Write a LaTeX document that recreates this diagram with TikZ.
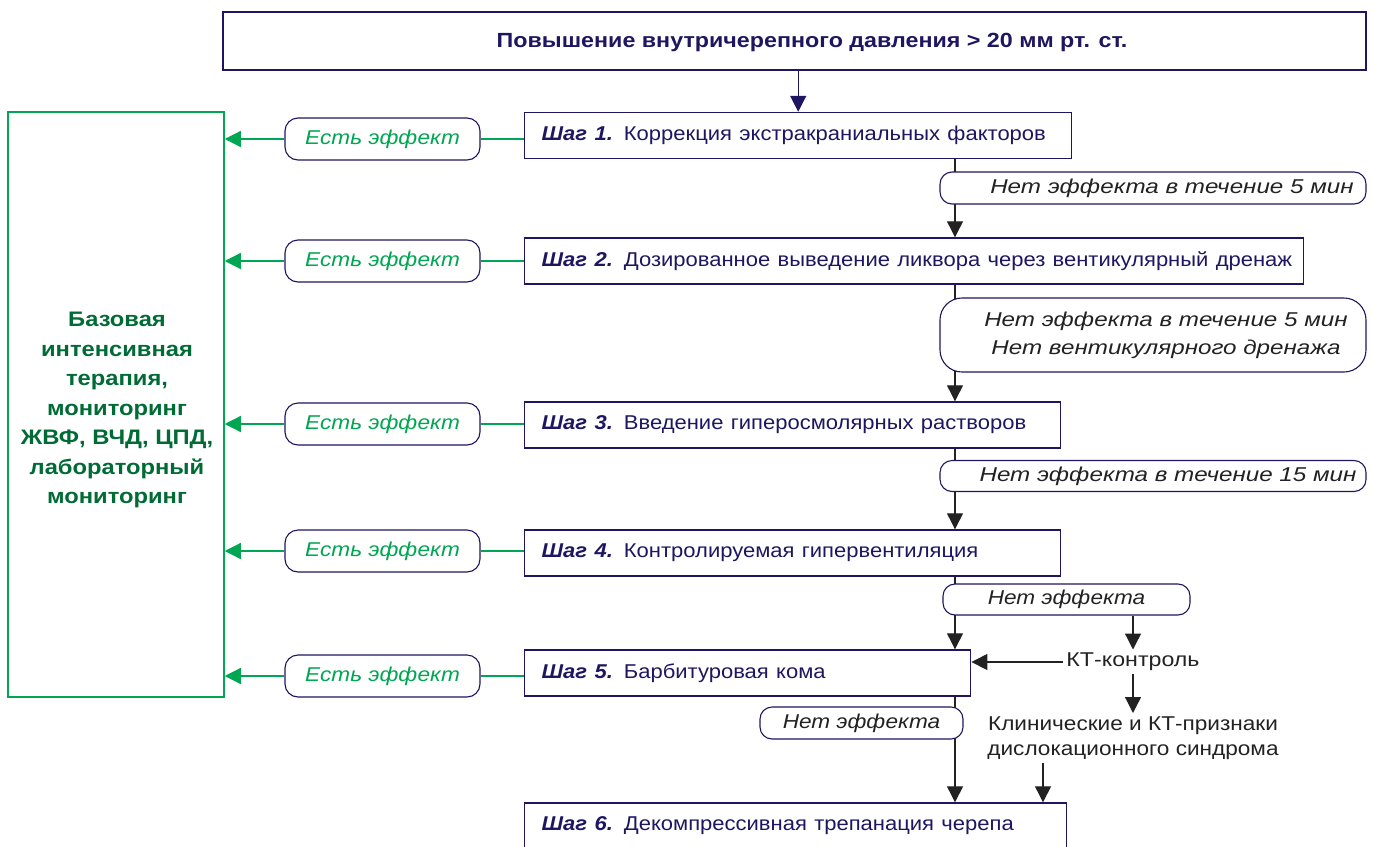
\documentclass[tikz,border=0pt]{standalone}
\usepackage{fontspec}
\usepackage{graphicx}
\setmainfont{Liberation Sans}
\usetikzlibrary{arrows.meta}
\definecolor{navy}{HTML}{1E1660}
\definecolor{grn}{HTML}{00A651}
\definecolor{dgrn}{HTML}{006B35}
\definecolor{dk}{HTML}{222222}
\newcommand\hs[1]{\scalebox{1.13}[1]{#1}}
\newcommand\hst[1]{\scalebox{1.10}[1]{#1}}
\newcommand\hw[1]{\scalebox{1.21}[1]{#1}}
\begin{document}
\begin{tikzpicture}[x=1pt,y=-1pt,
  stepbox/.style={draw=navy,line width=1.4pt,fill=white,text=navy,anchor=west,minimum height=46pt,inner xsep=17pt,align=left,font=\fontsize{20}{22}\selectfont},
  yes/.style={draw=navy,line width=1.1pt,rounded corners=13pt,fill=white,text=grn,minimum width=195pt,minimum height=42pt,font=\fontsize{20}{22}\selectfont\itshape},
  no/.style={draw=navy,line width=1.1pt,rounded corners=12pt,fill=white,text=dk,font=\fontsize{20}{22}\selectfont\itshape,align=center},
  flow/.style={draw=dk,line width=1.2pt,-{Triangle[width=16pt,length=16pt]}},
  gline/.style={draw=grn,line width=1.2pt},
  garrow/.style={draw=grn,line width=1.2pt,-{Triangle[width=16pt,length=16pt]}},
  plain/.style={text=dk,font=\fontsize{20}{25}\selectfont,align=center}
]
\useasboundingbox (0,0) rectangle (1373,846);
% top
\node[draw=navy,line width=1.4pt,minimum width=1143pt,minimum height=58pt] (top) at (794.5,41) {};
\node[text=navy,font=\fontsize{20.5}{22}\selectfont\bfseries] (title) at (812,42) {\scalebox{1.135}[1]{Повышение внутричерепного давления > 20 мм рт. ст.}};
% left base box
\node[draw=grn,line width=1.5pt,minimum width=216pt,minimum height=585pt] (base) at (116,404.5) {};
\node[text=dgrn,align=center,font=\fontsize{21}{29.5}\selectfont\bfseries] (basetext) at (117,410) {\hs{Базовая}\\\hs{интенсивная}\\\hs{терапия,}\\\hs{мониторинг}\\\hs{ЖВФ, ВЧД, ЦПД,}\\\hs{лабораторный}\\\hs{мониторинг}};
\coordinate (vx) at (955,0);
% steps
\node[stepbox,text width=513pt] (s1) at (524,135.5) {\hst{\textbf{\textit{Шаг 1.}} Коррекция экстракраниальных факторов}};
\node[stepbox,text width=745pt] (s2) at (524,261) {\hst{\textbf{\textit{Шаг 2.}} Дозированное выведение ликвора через вентикулярный дренаж}};
\node[stepbox,text width=502pt] (s3) at (524,425) {\hst{\textbf{\textit{Шаг 3.}} Введение гиперосмолярных растворов}};
\node[stepbox,text width=502pt] (s4) at (524,553) {\hst{\textbf{\textit{Шаг 4.}} Контролируемая гипервентиляция}};
\node[stepbox,text width=412pt] (s5) at (524,673) {\hst{\textbf{\textit{Шаг 5.}} Барбитуровая кома}};
\node[stepbox,text width=508pt] (s6) at (524,826) {\hst{\textbf{\textit{Шаг 6.}} Декомпрессивная трепанация черепа}};
% yes labels
\node[yes] (e1) at (382.5,139) {\hs{Есть эффект}};
\node[yes] (e2) at (382.5,261) {\hs{Есть эффект}};
\node[yes] (e3) at (382.5,424) {\hs{Есть эффект}};
\node[yes] (e4) at (382.5,551) {\hs{Есть эффект}};
\node[yes] (e5) at (382.5,676) {\hs{Есть эффект}};
\foreach \i in {1,...,5}{
  \draw[gline] (s\i.west |- e\i) -- (e\i.east);
  \draw[garrow] (e\i.west) -- (e\i.west -| base.east);
}
% top arrow
\draw[draw=navy,line width=1.4pt,-{Triangle[width=16pt,length=16pt]}] (top.south -| s1.north) -- (s1.north);
% vertical flow lines
\draw[flow] (vx |- s1.south) -- (vx |- s2.north);
\draw[flow] (vx |- s2.south) -- (vx |- s3.north);
\draw[flow] (vx |- s3.south) -- (vx |- s4.north);
\draw[flow] (vx |- s4.south) -- (vx |- s5.north);
\draw[flow] (vx |- s5.south) -- (vx |- s6.north);
% no labels
\node[no,minimum width=426pt,minimum height=32pt] (n1) at (1153,188) {\hspace*{38pt}\hw{Нет эффекта в течение 5 мин}};
\node[no,minimum width=426pt,minimum height=74pt,rounded corners=22pt,font=\fontsize{20}{28}\selectfont\itshape] (n2) at (1153,335) {\hspace*{26pt}\hw{Нет эффекта в течение 5 мин}\\\hspace*{26pt}\hw{Нет вентикулярного дренажа}};
\node[no,minimum width=426pt,minimum height=31pt] (n3) at (1153,476) {\hspace*{30pt}\hw{Нет эффекта в течение 15 мин}};
\node[no,minimum width=247pt,minimum height=31pt] (n4) at (1066.5,599.5) {\hs{Нет эффекта}};
\node[no,minimum width=203pt,minimum height=32pt] (n5) at (861.5,723) {\hs{Нет эффекта}};
% CT branch
\node[plain] (kt) at (1133,662) {\scalebox{1.16}[1]{КТ-контроль}};
\node[plain] (kl) at (1133,738) {\hs{Клинические и КТ-признаки}\\\hs{дислокационного синдрома}};
\coordinate (dx) at (1043,0);
\draw[flow] (n4.south -| kt) -- (kt.north);
\draw[flow] (kt.west) -- (kt.west -| s5.east);
\draw[flow] (kt.south) -- (kl.north -| kt);
\draw[flow] (dx |- kl.south) -- (dx |- s6.north);
\end{tikzpicture}
\end{document}
